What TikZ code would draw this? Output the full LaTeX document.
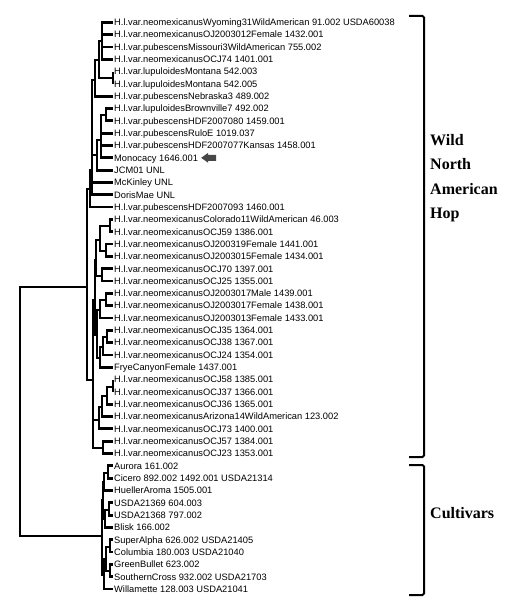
\documentclass[tikz,border=0pt]{standalone}
\usepackage{fontspec}
\setmainfont{Liberation Sans}
\newfontfamily\cladefont{Liberation Serif}
\tikzset{
  branch/.style={line width=2.8pt,line join=miter},
  leaf/.style={anchor=west,inner xsep=1pt,inner ysep=0pt,text height=6.6pt,text depth=0pt,font=\fontsize{9.3}{11}\selectfont},
  bracket/.style={line width=2pt,rounded corners=1.5pt},
  cladelabel/.style={align=left,inner sep=0pt,font=\cladefont\bfseries\fontsize{16}{24.5}\selectfont},
  marker/.style={fill=black!72,draw=none}
}

\begin{document}
\begin{tikzpicture}[x=1pt,y=-1pt]
  \useasboundingbox (0,0) rectangle (525,612);
  \foreach \txt [count=\i] in {
    H.l.var.neomexicanusWyoming31WildAmerican 91.002 USDA60038,
    H.l.var.neomexicanusOJ2003012Female 1432.001,
    H.l.var.pubescensMissouri3WildAmerican 755.002,
    H.l.var.neomexicanusOCJ74 1401.001,
    H.l.var.lupuloidesMontana 542.003,
    H.l.var.lupuloidesMontana 542.005,
    H.l.var.pubescensNebraska3 489.002,
    H.l.var.lupuloidesBrownville7 492.002,
    H.l.var.pubescensHDF2007080 1459.001,
    H.l.var.pubescensRuloE 1019.037,
    H.l.var.pubescensHDF2007077Kansas 1458.001,
    Monocacy 1646.001,
    JCM01 UNL,
    McKinley UNL,
    DorisMae UNL,
    H.l.var.pubescensHDF2007093 1460.001,
    H.l.var.neomexicanusColorado11WildAmerican 46.003,
    H.l.var.neomexicanusOCJ59 1386.001,
    H.l.var.neomexicanusOJ200319Female 1441.001,
    H.l.var.neomexicanusOJ2003015Female 1434.001,
    H.l.var.neomexicanusOCJ70 1397.001,
    H.l.var.neomexicanusOCJ25 1355.001,
    H.l.var.neomexicanusOJ2003017Male 1439.001,
    H.l.var.neomexicanusOJ2003017Female 1438.001,
    H.l.var.neomexicanusOJ2003013Female 1433.001,
    H.l.var.neomexicanusOCJ35 1364.001,
    H.l.var.neomexicanusOCJ38 1367.001,
    H.l.var.neomexicanusOCJ24 1354.001,
    FryeCanyonFemale 1437.001,
    H.l.var.neomexicanusOCJ58 1385.001,
    H.l.var.neomexicanusOCJ37 1366.001,
    H.l.var.neomexicanusOCJ36 1365.001,
    H.l.var.neomexicanusArizona14WildAmerican 123.002,
    H.l.var.neomexicanusOCJ73 1400.001,
    H.l.var.neomexicanusOCJ57 1384.001,
    H.l.var.neomexicanusOCJ23 1353.001,
    Aurora 161.002,
    Cicero 892.002 1492.001 USDA21314,
    HuellerAroma 1505.001,
    USDA21369 604.003,
    USDA21368 797.002,
    Blisk 166.002,
    SuperAlpha 626.002 USDA21405,
    Columbia 180.003 USDA21040,
    GreenBullet 623.002,
    SouthernCross 932.002 USDA21703,
    Willamette 128.003 USDA21041}
    \node[leaf] (l\i) at (113,{22.3+(\i-1)*12.32}) {\txt};

  \coordinate (a1) at (102,41);   \coordinate (mont) at (113,78);
  \coordinate (a2) at (99,60);    \coordinate (a3) at (95,80);
  \coordinate (b1) at (106,115);  \coordinate (b2) at (101,140);
  \coordinate (b3) at (97,155);   \coordinate (a4) at (92,170);
  \coordinate (wa) at (90,189);
  \coordinate (ba) at (110,226);  \coordinate (bb) at (106,251);
  \coordinate (bab) at (100,240); \coordinate (bc) at (102,276);
  \coordinate (bx1) at (96,260);  \coordinate (bd) at (106,300);
  \coordinate (be) at (100,310);  \coordinate (bf) at (107,337);
  \coordinate (bg) at (103,347);  \coordinate (bh) at (100,358);
  \coordinate (bx2) at (97,335);  \coordinate (bx3) at (95,300);
  \coordinate (bi) at (113,387);  \coordinate (bj) at (107,396);
  \coordinate (bk) at (102,407);  \coordinate (bl) at (99,420);
  \coordinate (bm) at (103,448);  \coordinate (wb) at (93,380);
  \coordinate (wild) at (87,287);
  \coordinate (ca) at (108,473);  \coordinate (cb) at (104,482);
  \coordinate (cc) at (109,510);  \coordinate (cd) at (105,519);
  \coordinate (ce) at (110,547);  \coordinate (cf) at (110,571);
  \coordinate (cg) at (106,559);  \coordinate (ch) at (104,575);
  \coordinate (ci) at (103,500);  \coordinate (cult) at (102,536);
  \coordinate (root) at (20,410);

  \foreach \p/\c in {a1/l1.west,a1/l2.west,a1/l3.west,a1/l4.west,
      mont/l5.west,mont/l6.west,a2/a1,a2/mont,a3/a2,a3/l7.west,
      b1/l8.west,b1/l9.west,b2/b1,b2/l10.west,b2/l11.west,b2/l12.west,
      b3/b2,b3/l13.west,a4/a3,a4/b3,a4/l14.west,a4/l15.west,wa/a4,wa/l16.west,
      ba/l17.west,ba/l18.west,bb/l19.west,bb/l20.west,bab/ba,bab/bb,
      bc/l21.west,bc/l22.west,bx1/bab,bx1/bc,bd/l23.west,bd/l24.west,
      be/bd,be/l25.west,bf/l26.west,bf/l27.west,bg/bf,bg/l28.west,
      bh/bg,bh/l29.west,bx2/be,bx2/bh,bx3/bx1,bx3/bx2,
      bi/l30.west,bi/l31.west,bj/bi,bj/l32.west,bk/bj,bk/l33.west,
      bl/bk,bl/l34.west,bm/l35.west,bm/l36.west,wb/bx3,wb/bl,wb/bm,
      wild/wa,wild/wb,
      ca/l37.west,ca/l38.west,cb/ca,cb/l39.west,cc/l40.west,cc/l41.west,
      cd/cc,cd/l42.west,ce/l43.west,ce/l44.west,cf/l45.west,cf/l46.west,
      cg/ce,cg/cf,ch/cg,ch/l47.west,ci/cb,ci/cd,cult/ci,cult/ch,
      root/wild,root/cult}
    \draw[branch] (\p) |- (\c);

  \fill[marker] ([xshift=2pt]l12.east) coordinate (tip) -- ++(7,-5) -- ++(0,2)
    -- ++(8,0) -- ++(0,6) -- ++(-8,0) -- ++(0,2) -- cycle;

  \draw[bracket] (409,16) -| (424,457) -- (409,457);
  \draw[bracket] (409,465) -| (424,595) -- (409,595);
  \node[cladelabel,anchor=west] (wildlabel) at (430,178) {Wild\\North\\American\\Hop};
  \node[cladelabel,anchor=base west] (cultlabel) at (430,518) {Cultivars};
\end{tikzpicture}
\end{document}
